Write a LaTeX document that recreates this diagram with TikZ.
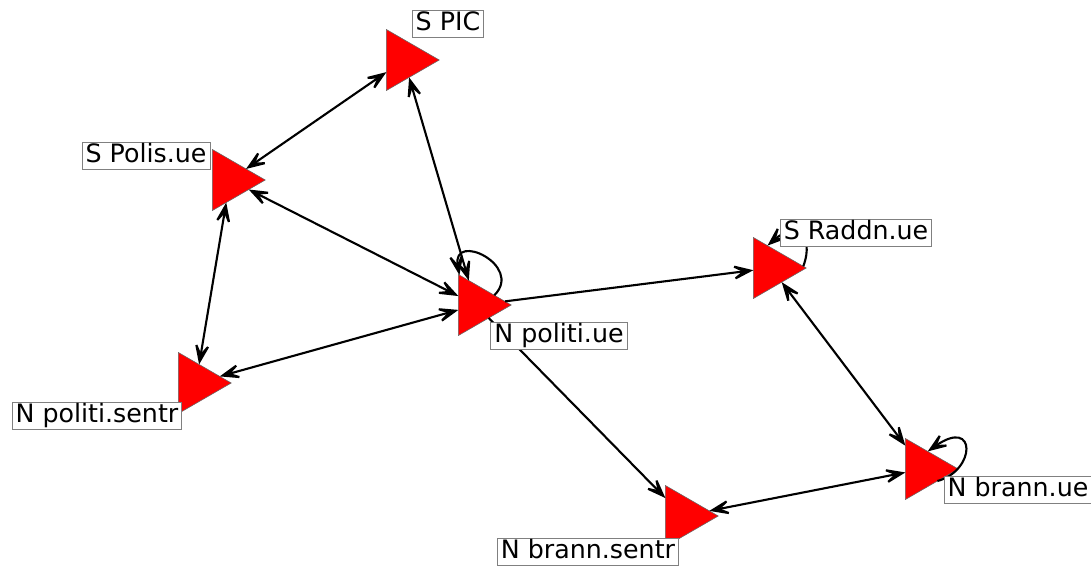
\documentclass[tikz,border=0pt]{standalone}
\usepackage{fontspec}
\setmainfont{DejaVu Sans}
\usetikzlibrary{shapes.geometric,arrows.meta}

\begin{document}
\begin{tikzpicture}[x=0.025cm,y=0.025cm,
  vert/.style={regular polygon,regular polygon sides=3,shape border rotate=-90,minimum size=1.76cm,inner sep=0pt,outer sep=0pt,fill=red,draw=black!60,line width=0.4pt},
  lab/.style={draw=gray,fill=white,line width=0.6pt,inner xsep=2.5pt,inner ysep=1.2pt,text height=13pt,text depth=4pt,font=\fontsize{18}{21}\selectfont},
  tip/.tip={Stealth[length=20pt,width=15pt,inset=12pt]},
  arr/.style={line width=1.5pt,-tip},
  darr/.style={line width=1.5pt,tip-tip}]
\useasboundingbox (0,0) rectangle (1091,-566);
\node[vert] (spic) at (404,-60) {};
\node[vert] (spol) at (230,-180) {};
\node[vert] (npu) at (476,-305) {};
\node[vert] (sr) at (771,-268) {};
\node[vert] (nbu) at (923,-469) {};
\node[vert] (nps) at (196,-383) {};
\node[vert] (nbs) at (683,-516) {};
\draw[darr] (spic) -- (spol);
\draw[darr] (spic) -- (npu);
\draw[darr] (spol) -- (npu);
\draw[darr] (spol) -- (nps);
\draw[darr] (nps) -- (npu);
\draw[arr] (npu) -- (sr);
\draw[arr] (npu) -- (nbs);
\draw[darr] (sr) -- (nbu);
\draw[darr] (nbs) -- (nbu);
\draw[arr] (npu.28) .. controls +(45:42) and +(100:45) .. (npu.119);
\draw[arr] (sr.3) .. controls +(70:35) and +(41:35) .. (sr.99);
\draw[arr] (nbu.-40) .. controls +(15:40) and +(35:60) .. (nbu.75);
\node[lab] (spicl) at (448,-24) {S PIC};
\node[lab] (spoll) at (146,-156) {S Polis.ue};
\node[lab] (npul) at (559,-336) {N politi.ue};
\node[lab] (srl) at (856,-233) {S Raddn.ue};
\node[lab] (nbul) at (1018,-490) {N brann.ue};
\node[lab] (npsl) at (97,-416) {N politi.sentr};
\node[lab] (nbsl) at (588,-552) {N brann.sentr};
\end{tikzpicture}
\end{document}
